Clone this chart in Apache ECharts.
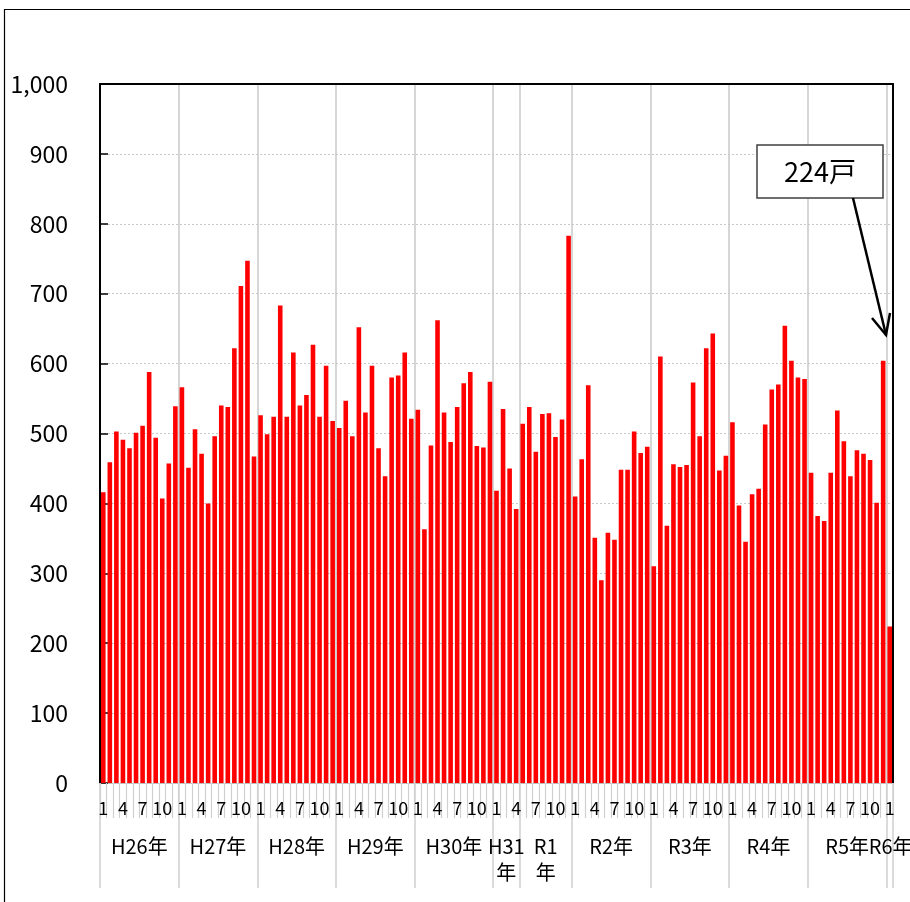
<!DOCTYPE html>
<html>
<head>
<meta charset="utf-8">
<script src="https://cdn.jsdelivr.net/npm/echarts@6/dist/echarts.min.js"></script>
<style>
  html, body { margin: 0; padding: 0; background: #fff; }
  #chart { width: 910px; height: 902px; }
</style>
</head>
<body>
<div id="chart"></div>
<script>
// 月別の戸数（年度ごと）
const h26 = [416, 459, 503, 491, 479, 501, 511, 588, 494, 407, 457, 539];
const h27 = [566, 451, 506, 471, 400, 496, 540, 538, 622, 711, 747, 467];
const h28 = [526, 499, 524, 683, 524, 616, 540, 555, 627, 524, 597, 518];
const h29 = [508, 547, 496, 652, 530, 597, 479, 439, 580, 583, 616, 521];
const h30 = [534, 363, 483, 662, 530, 488, 538, 572, 588, 482, 480, 574];
const h31 = [418, 535, 450, 392];
const r1 = [514, 538, 474, 528, 529, 495, 520, 783];
const r2 = [410, 463, 569, 351, 290, 358, 348, 448, 448, 503, 472, 481];
const r3 = [310, 610, 368, 456, 452, 455, 573, 496, 622, 643, 447, 468];
const r4 = [516, 397, 345, 413, 421, 513, 563, 570, 654, 604, 580, 578];
const r5 = [444, 382, 375, 444, 533, 489, 439, 476, 471, 462, 401, 604];
const r6 = [224];

// 年ラベルと各年の開始月
const yearLabels = ['H26年', 'H27年', 'H28年', 'H29年', 'H30年', 'H31\n年', 'R1\n年', 'R2年', 'R3年', 'R4年', 'R5年', 'R6年'];
const yearValues = [h26, h27, h28, h29, h30, h31, r1, r2, r3, r4, r5, r6];
const yearFirstMonth = [1, 1, 1, 1, 1, 1, 5, 1, 1, 1, 1, 1];
const monthTickLabels = ['1', '4', '7', '10'];
const yTicks = [0, 100, 200, 300, 400, 500, 600, 700, 800, 900, 1000];

const FONT = '"Noto Sans CJK JP", "Noto Sans", sans-serif';
const gridLeft = 100, gridRight = 17, gridTop = 84, gridBottom = 119;
const bandW = (910 - gridLeft - gridRight) / 121;

// 軸用データを組み立てる（最後の年ラベルは別の軸に載せて重なり判定を避ける）
const monthCats = [];
const values = [];
const yearAxisData = [];
const lastYearAxisData = [];
const yearLabelKey = {};
const yearStart = new Set();
yearValues.forEach((vals, y) => {
  const start = monthCats.length;
  yearStart.add(start);
  vals.forEach((v, i) => {
    monthCats.push(String(yearFirstMonth[y] + i));
    values.push(v);
    yearAxisData.push('');
    lastYearAxisData.push('');
  });
  const n = vals.length;
  if (y === yearValues.length - 1) {
    lastYearAxisData[start] = yearLabels[y];
    return;
  }
  let idx, key;
  if (n % 2 === 0) { idx = start + n / 2 - 1; key = 'e'; }
  else { idx = start + (n - 1) / 2; key = 'o'; }
  yearAxisData[idx] = yearLabels[y];
  yearLabelKey[idx] = key;
});

const chart = echarts.init(document.getElementById('chart'));

const yearTextStyle = { fontSize: 20, lineHeight: 26, color: '#000', fontFamily: FONT };

const option = {
  animation: false,
  grid: { left: gridLeft, right: gridRight, top: gridTop, bottom: gridBottom, outerBoundsMode: 'none' },
  xAxis: [
    {
      // 月ラベル
      type: 'category',
      data: monthCats,
      position: 'bottom',
      axisLine: { show: true, onZero: false, lineStyle: { color: '#bfbfbf', width: 1 } },
      axisTick: { show: true, interval: 0, length: 35, lineStyle: { color: '#d0d0d0', width: 1.2 } },
      axisLabel: {
        interval: (i, v) => monthTickLabels.includes(v),
        showMinLabel: true, showMaxLabel: true,
        fontSize: 18, margin: 16, color: '#000', fontFamily: FONT
      },
      splitLine: { show: false }
    },
    {
      // 年ラベル
      type: 'category',
      data: yearAxisData,
      position: 'bottom',
      axisLine: { show: false, onZero: false },
      axisTick: { show: true, interval: (i) => yearStart.has(i), length: 105, lineStyle: { color: '#d0d0d0', width: 1.5 } },
      splitLine: { show: true, interval: (i) => yearStart.has(i), lineStyle: { color: '#c8c8c8', width: 1.5 } },
      axisLabel: {
        interval: (i, v) => v !== '',
        showMinLabel: true, showMaxLabel: true,
        margin: 50,
        formatter: (v, i) => {
          const key = yearLabelKey[i] || 'o';
          return v.split('\n').map(s => '{' + key + '|' + s + '}').join('\n');
        },
        rich: {
          e: Object.assign({ padding: [0, 0, 0, bandW] }, yearTextStyle),
          o: Object.assign({}, yearTextStyle)
        }
      }
    },
    {
      // 最後の年ラベル（R6年）
      type: 'category',
      data: lastYearAxisData,
      position: 'bottom',
      axisLine: { show: false, onZero: false },
      axisTick: { show: false },
      splitLine: { show: false },
      axisLabel: {
        interval: (i, v) => v !== '',
        showMinLabel: true, showMaxLabel: true,
        margin: 50,
        formatter: v => '{r|' + v + '}',
        rich: { r: Object.assign({ padding: [0, 0, 0, 2] }, yearTextStyle) }
      }
    },
    {
      // 上枠
      type: 'category',
      data: monthCats,
      position: 'top',
      axisLine: { show: true, onZero: false, lineStyle: { color: '#000', width: 2 } },
      axisTick: { show: false },
      axisLabel: { show: false },
      splitLine: { show: false }
    }
  ],
  yAxis: [
    {
      type: 'value',
      min: yTicks[0],
      max: yTicks[yTicks.length - 1],
      interval: yTicks[1] - yTicks[0],
      axisLine: { show: true, lineStyle: { color: '#000', width: 2 } },
      axisTick: { show: true, inside: true, length: 8, lineStyle: { color: '#000', width: 1.5 } },
      axisLabel: {
        fontSize: 23, margin: 32, color: '#000', fontFamily: FONT,
        formatter: v => v.toLocaleString('en-US')
      },
      splitLine: { show: true, lineStyle: { color: '#c8c8c8', type: [2, 2], width: 1 } }
    },
    {
      // 右枠
      type: 'value',
      position: 'right',
      min: yTicks[0],
      max: yTicks[yTicks.length - 1],
      axisLine: { show: true, onZero: false, lineStyle: { color: '#000', width: 2 } },
      axisTick: { show: false },
      axisLabel: { show: false },
      splitLine: { show: false }
    }
  ],
  series: [
    {
      type: 'bar',
      xAxisIndex: 0,
      yAxisIndex: 0,
      data: values,
      barWidth: '70%',
      itemStyle: { color: '#ff0000' }
    }
  ],
  graphic: [
    {
      type: 'rect', silent: true, z: 0,
      shape: { x: 4.5, y: 9.5, width: 1000, height: 1000 },
      style: { fill: 'none', stroke: '#000', lineWidth: 1.2 }
    },
    {
      type: 'rect', z: 10,
      shape: { x: 757, y: 145, width: 126, height: 53 },
      style: { fill: '#fff', stroke: '#404040', lineWidth: 1.5 }
    },
    {
      type: 'text', z: 11, x: 820, y: 172,
      style: {
        text: values[values.length - 1] + '戸',
        fontSize: 27, fontFamily: FONT, fill: '#000',
        align: 'center', verticalAlign: 'middle'
      }
    },
    {
      type: 'line', z: 11,
      shape: { x1: 853, y1: 198, x2: 886, y2: 335 },
      style: { stroke: '#000', lineWidth: 2.5 }
    },
    {
      type: 'polyline', z: 11,
      shape: { points: [[872, 318], [886, 335], [890, 313]] },
      style: { stroke: '#000', lineWidth: 2.5, fill: 'none' }
    }
  ]
};

chart.setOption(option);
</script>
</body>
</html>
